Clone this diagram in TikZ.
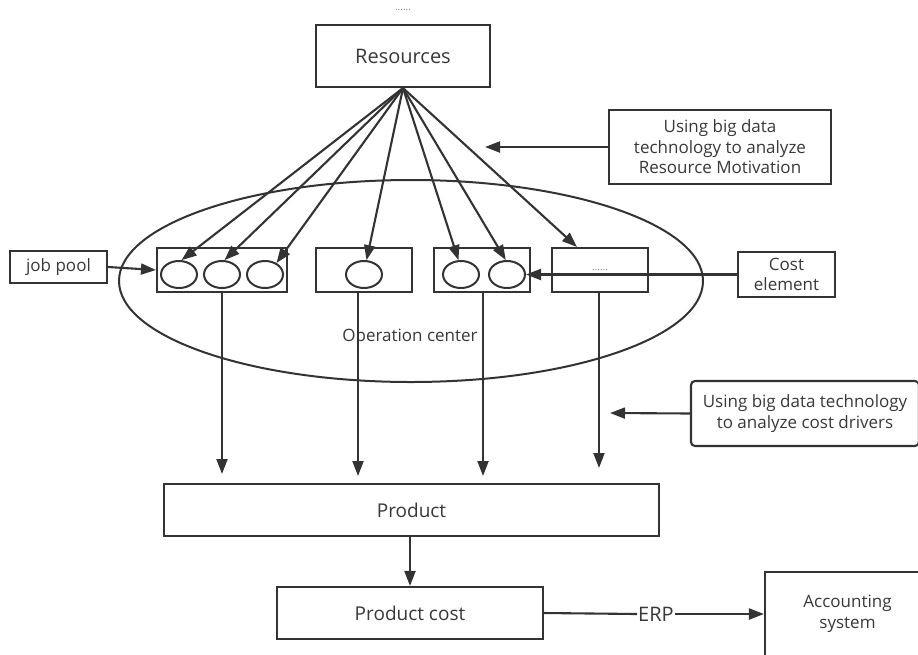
\documentclass[tikz,border=0pt]{standalone}
\usepackage{fontspec}
\setmainfont{Open Sans}
\usetikzlibrary{arrows.meta,shapes.geometric,calc}
\definecolor{ink}{HTML}{333333}
\definecolor{txt}{HTML}{383838}
\begin{document}
\begin{tikzpicture}[x=1pt,y=-1pt,
  box/.style={draw=ink,line width=2.1pt,rectangle,inner sep=0pt,align=center,text=txt},
  oval/.style={draw=ink,line width=2pt,ellipse,inner sep=0pt,minimum width=36pt,minimum height=27pt},
  arr/.style={draw=ink,line width=2.1pt,-{Triangle[length=15pt,width=11pt]}},
  ln/.style={draw=ink,line width=2.1pt},
  fs/.style={font=\fontsize{17}{20.5}\selectfont},
  dotsty/.style={text=gray,font=\fontsize{10}{11}\selectfont}
]
\useasboundingbox (0,0) rectangle (918,654);
% top dots
\node[dotsty,inner sep=0pt,anchor=base] (topdots) at (403,10) {......};
% operation center ellipse
\node[draw=ink,line width=2pt,ellipse,inner sep=0pt,minimum width=584pt,minimum height=202pt] (opc) at (411,281) {};
\node[fs,text=txt] (opclabel) at (410,337) {Operation center};
% Resources
\node[box,minimum width=174pt,minimum height=62pt,font=\fontsize{20}{24}\selectfont] (res) at (403,56) {Resources};
% boxes in operation center
\node[box,minimum width=130pt,minimum height=44pt] (b1) at (222,270) {};
\node[box,minimum width=96pt,minimum height=44pt] (b2) at (364,270) {};
\node[box,minimum width=96pt,minimum height=44pt] (b3) at (482,270) {};
\node[box,minimum width=96pt,minimum height=44pt,dotsty] (b4) at (600,270) {......};
\node[oval] (c1) at (179,274.5) {};
\node[oval] (c2) at (222,274.5) {};
\node[oval] (c3) at (265,274.5) {};
\node[oval] (c4) at (364,274.5) {};
\node[oval] (c5) at (461,274.5) {};
\node[oval] (c6) at (507,274.5) {};
% side boxes
\node[box,fs,minimum width=97pt,minimum height=32pt] (jp) at (58.5,267) {job pool};
\node[box,fs,minimum width=97pt,minimum height=45pt] (ce) at (786.5,274.5) {Cost\\element};
\node[box,fs,minimum width=222pt,minimum height=74pt] (rm) at (720,147) {Using big data\\technology to analyze\\Resource Motivation};
\node[box,fs,rounded corners=4pt,minimum width=228pt,minimum height=65pt] (cd) at (805,413.5) {Using big data technology\\to analyze cost drivers};
% product
\node[box,minimum width=495pt,minimum height=52pt,font=\fontsize{19}{22}\selectfont] (pr) at (411.5,510) {Product};
\node[box,minimum width=266pt,minimum height=52pt,font=\fontsize{19}{22}\selectfont] (pc) at (410,613) {Product cost};
\node[box,fs,minimum width=165pt,minimum height=84pt] (acc) at (847.5,614) {Accounting\\system};
\node[text=txt,fill=white,inner sep=1pt,font=\fontsize{20}{24}\selectfont] (erp) at (656,614) {ERP};
% free ends
\coordinate (rmend) at (485,147);
\coordinate (cdend) at (610,413);
\coordinate (e1) at (222,474);
\coordinate (e2) at (358,476);
\coordinate (e3) at (483,476);
\coordinate (e4) at (599,468);
% fan arrows
\draw[arr] (res.south) -- (c1.80);
\draw[arr] (res.south) -- (c2.80);
\draw[arr] (res.south) -- (c3.45);
\draw[arr] (res.south) -- (c4.80);
\draw[arr] (res.south) -- (c5.100);
\draw[arr] (res.south) -- (c6.95);
\draw[arr] (res.south) -- (b4.135);
% side arrows
\draw[arr] (rm.west) -- (rmend);
\draw[arr] (cd.west) -- (cdend);
\draw[arr] (jp.east) -- (b1.west);
\draw[arr] (ce.west) -- (c6.east);
% down arrows
\draw[arr] (b1.south -| e1) -- (e1);
\draw[arr] (b2.south -| e2) -- (e2);
\draw[arr] (b3.south -| e3) -- (e3);
\draw[arr] (b4.south -| e4) -- (e4);
% product chain
\draw[arr] (pr.south -| pc.north) -- (pc.north);
\draw[ln] (pc.east) -- (erp.west);
\draw[arr] (erp.east) -- (acc.west);
\end{tikzpicture}
\end{document}
